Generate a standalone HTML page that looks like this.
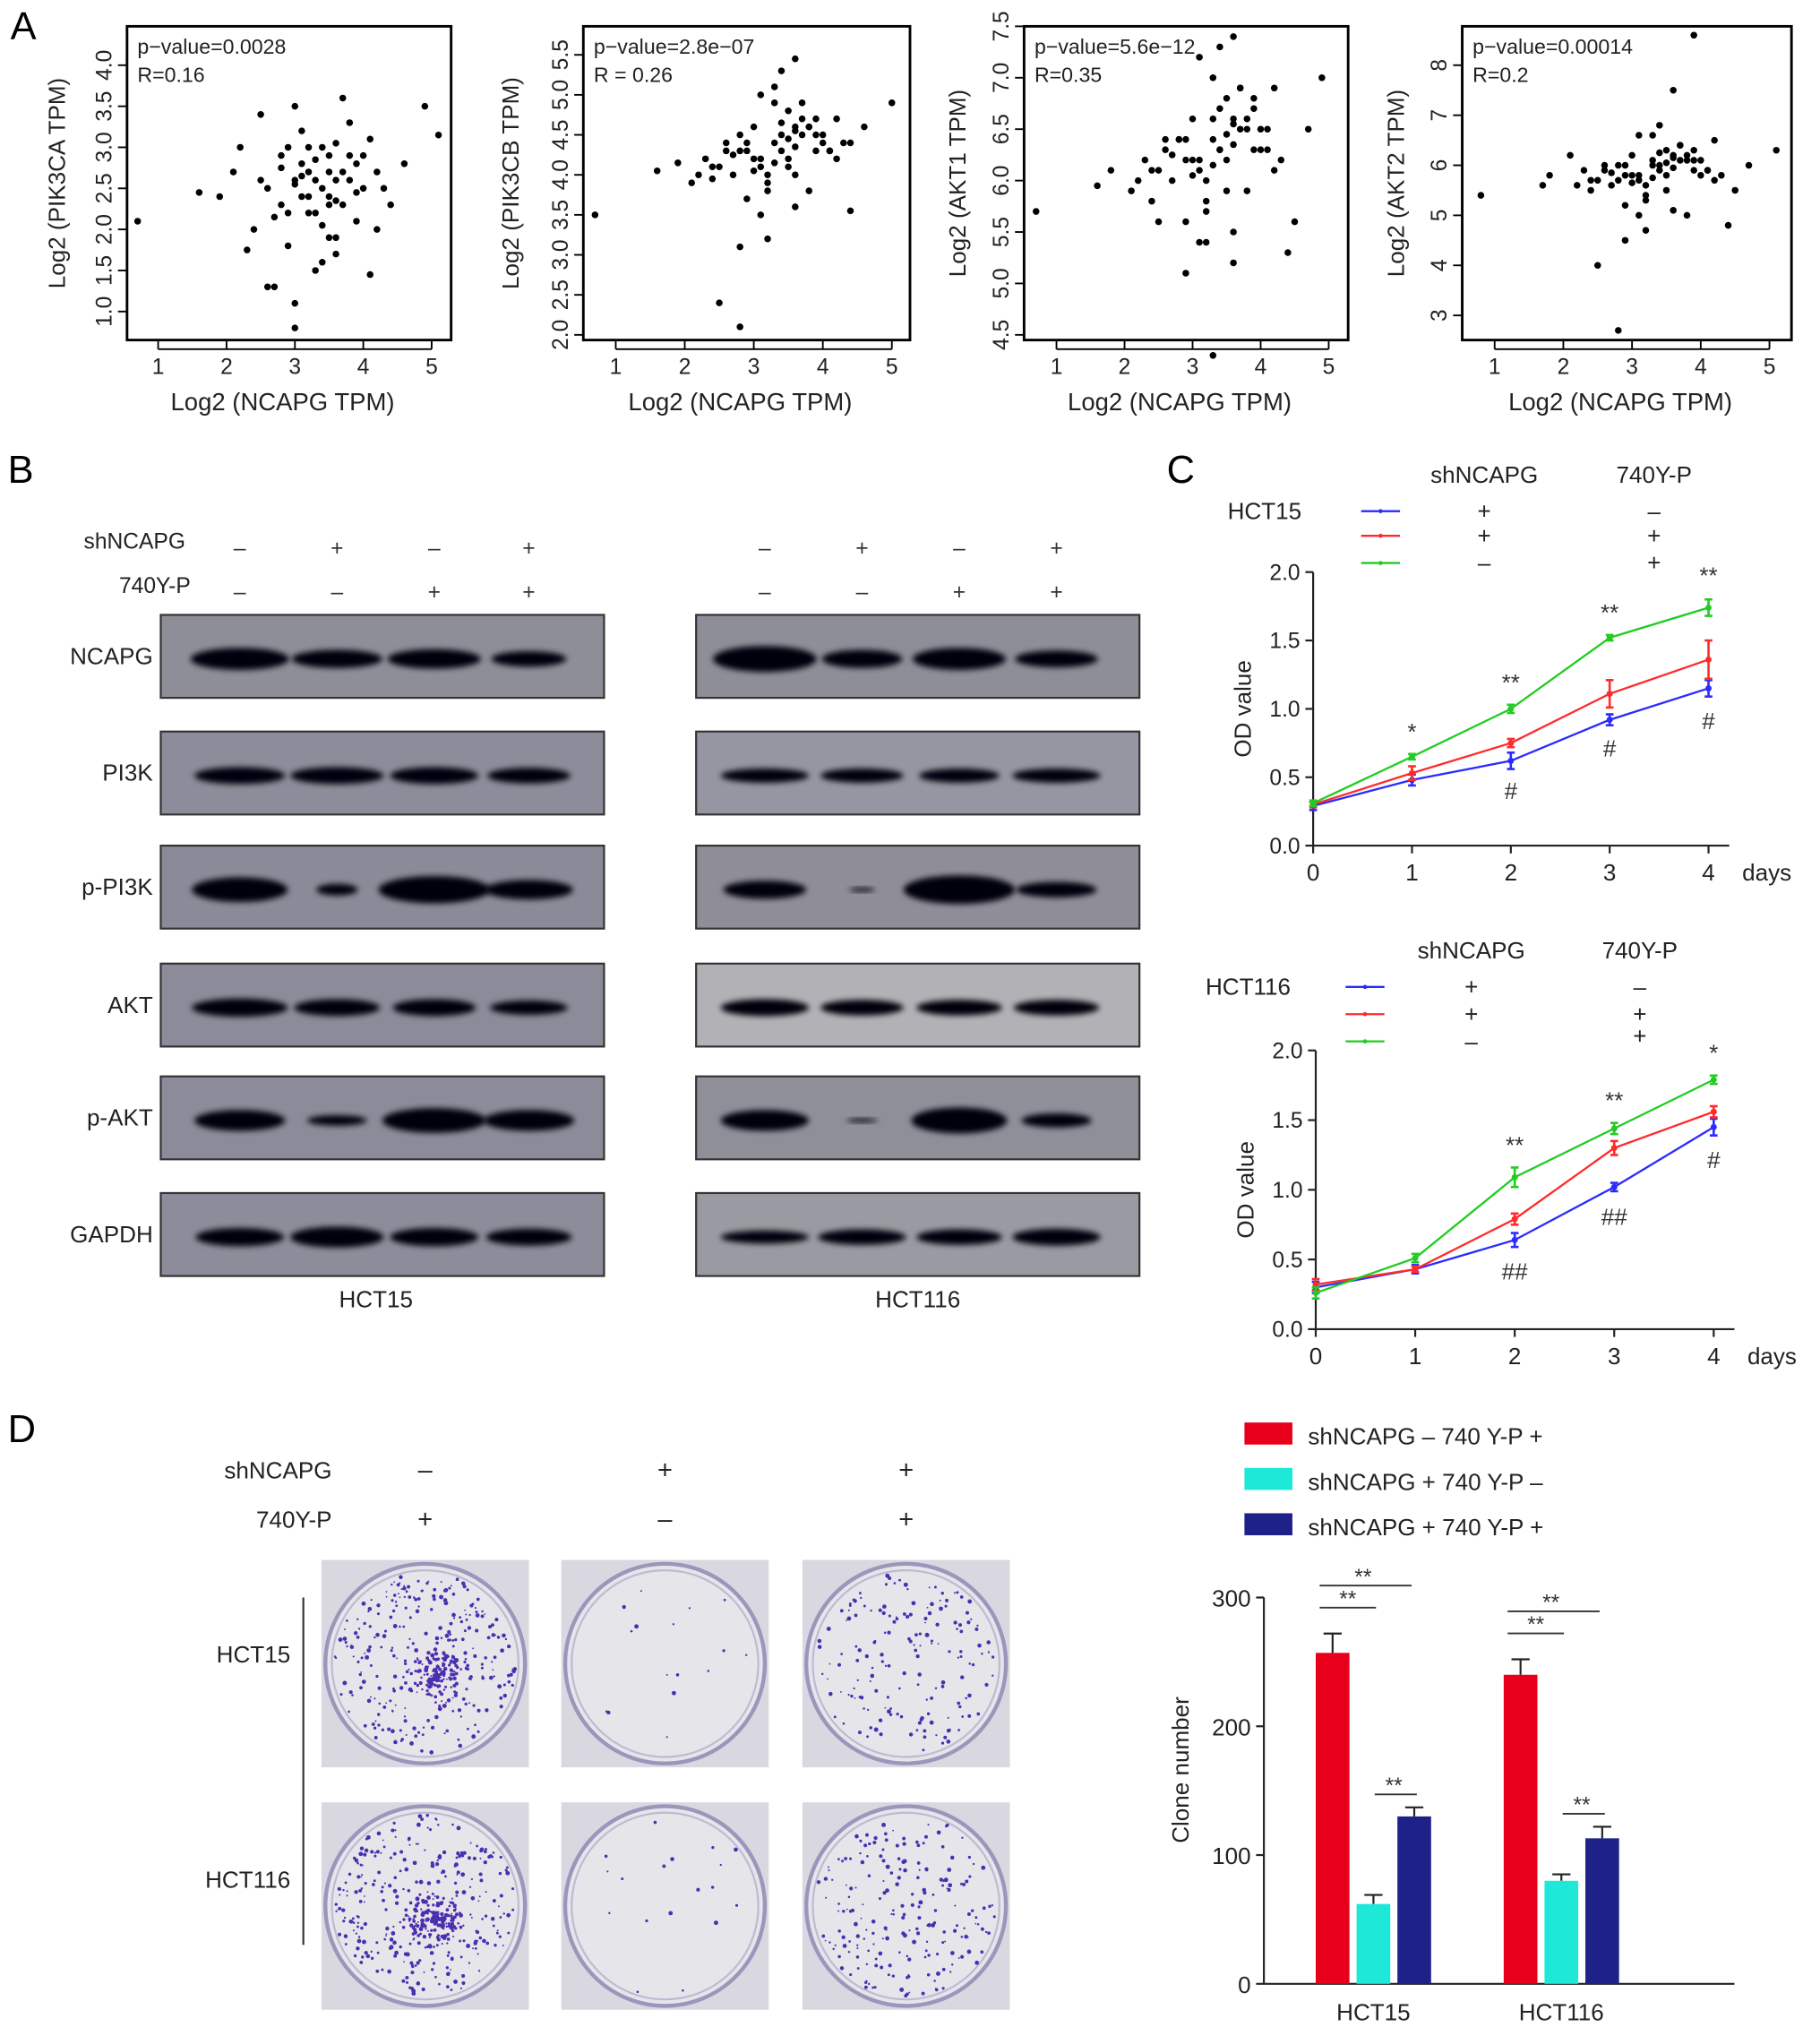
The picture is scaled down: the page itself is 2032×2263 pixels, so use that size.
<!DOCTYPE html>
<html><head><meta charset="utf-8"><title>NCAPG PI3K/AKT figure</title>
<style>
html,body{margin:0;padding:0;background:#fff;}
svg{display:block;font-family:"Liberation Sans",Arial,sans-serif;}
</style></head>
<body>
<svg id="fig" width="2032" height="2263" viewBox="0 0 1404 1563" xmlns="http://www.w3.org/2000/svg">
<defs>
<filter id="blur2" x="-20%" y="-50%" width="140%" height="200%"><feGaussianBlur stdDeviation="2.2"/></filter>
</defs>
<g id="panelA"></g>
<g id="panelB"></g>
<g id="panelC"></g>
<g id="panelD"></g>
</svg>
<script>
// ---------- Panel A data ----------
const scatterX1 = [3.0,3.2,3.5,2.8,3.9,4.1,3.3,2.6,3.7,3.1,2.9,3.6,4.0,3.4,2.4,3.8,3.2,2.7,3.5,3.0,4.3,2.2,3.6,3.9,2.5,3.3,3.1,4.2,2.8,3.7,3.4,0.7,1.6,4.9,5.1,4.6,1.9,2.3,3.0,4.1,3.5,2.6,3.2,3.8,2.9,4.4,3.3,2.1,3.6,3.0,3.4,3.7,3.1,2.9,3.5,3.8,3.2,3.6,2.8,4.0,3.3,3.5,3.9,2.7,3.0,3.6,3.4,3.1,4.2,2.5];
const scatterY1 = [2.6,2.4,2.7,2.9,2.8,3.1,2.2,2.5,2.3,3.2,1.8,2.6,2.9,1.6,2.0,3.3,2.7,1.3,2.4,3.5,2.5,3.0,1.9,2.1,3.4,1.5,2.8,2.0,2.3,3.6,3.0,2.1,2.45,3.5,3.15,2.8,2.4,1.75,1.1,1.45,1.9,1.3,2.2,2.9,3.0,2.3,2.6,2.7,1.7,0.8,2.5,2.7,2.4,2.2,2.9,2.6,3.0,2.35,2.75,2.5,2.85,2.3,2.45,2.15,2.55,3.05,2.05,2.65,2.7,2.6];
const scatterX2 = [3.0,3.3,3.6,2.7,3.9,4.1,3.2,2.5,3.7,3.4,2.9,3.5,4.0,3.1,2.3,3.8,3.3,2.8,3.5,3.0,4.3,2.2,3.6,3.9,2.6,3.2,3.1,4.2,2.8,3.7,3.4,0.7,1.6,4.6,5.0,4.4,1.9,2.1,2.8,4.4,3.6,2.5,3.2,3.8,2.9,4.2,3.3,2.4,3.6,2.8,3.4,3.7,3.1,2.9,3.5,3.8,3.2,3.6,2.7,4.0,3.3,3.5,3.9,2.6,3.0,3.6,3.4,3.1,4.1,2.4];
const scatterY2 = [4.2,4.4,4.6,4.0,4.5,4.3,3.9,4.1,4.7,4.5,3.7,4.8,4.4,3.5,4.2,4.6,4.9,4.3,4.1,4.6,4.4,4.0,3.6,4.7,4.3,3.8,5.0,4.2,4.5,4.9,5.3,3.5,4.05,4.6,4.9,4.4,4.15,3.9,3.1,3.55,5.45,2.4,3.2,3.8,4.3,4.7,5.1,3.95,4.0,2.1,4.3,4.5,4.1,4.4,4.2,4.6,4.0,4.35,4.25,4.5,4.15,4.45,4.3,4.4,4.05,4.55,4.65,4.2,4.3,4.1];
const scatterX3 = [3.0,3.3,3.6,2.7,3.9,4.1,3.2,2.5,3.7,3.4,2.9,3.5,4.0,3.1,2.3,3.8,3.3,2.8,3.5,3.0,4.3,2.2,3.6,3.9,2.6,3.2,3.1,4.2,2.8,3.7,3.4,0.7,1.6,4.7,4.9,4.5,1.8,2.1,2.9,4.4,3.6,2.5,3.2,3.8,2.9,4.2,3.3,2.4,3.6,3.3,3.4,3.7,3.1,2.9,3.5,3.8,3.2,3.6,2.7,4.0,3.3,3.5,3.9,2.6,3.0,3.6,3.4,3.1,4.1,2.4];
const scatterY3 = [6.2,6.4,6.6,6.0,6.7,6.5,5.8,6.1,6.9,6.3,5.6,6.8,6.3,5.4,6.2,6.5,7.0,6.4,5.9,6.6,6.2,6.0,5.5,6.8,6.3,5.7,7.2,6.1,6.4,6.9,7.3,5.7,5.95,6.5,7.0,5.6,6.1,5.9,5.1,5.3,7.4,5.6,5.4,5.9,6.2,6.9,6.6,5.8,5.2,4.3,6.3,6.5,6.1,6.4,6.2,6.6,6.0,6.35,6.25,6.5,6.15,6.45,6.3,6.4,6.05,6.55,6.7,6.2,6.3,6.1];
const scatterX4 = [3.0,3.3,3.6,2.7,3.9,4.1,3.2,2.5,3.7,3.4,2.9,3.5,4.0,3.1,2.3,3.8,3.3,2.8,3.5,3.0,4.3,2.2,3.6,3.9,2.6,3.2,3.1,4.2,2.8,3.7,3.4,0.8,1.7,4.7,5.1,4.5,1.8,2.1,2.9,4.4,3.6,2.5,3.2,3.8,2.9,4.2,3.3,2.4,3.9,2.8,3.4,3.7,3.1,2.9,3.5,3.8,3.2,3.6,2.7,4.0,3.3,3.5,3.9,2.6,3.0,3.6,3.4,3.1,4.1,2.4];
const scatterY4 = [5.8,6.0,6.2,5.6,6.1,5.9,5.4,5.7,6.4,6.0,5.2,6.3,5.8,5.0,5.9,6.1,6.6,5.7,5.5,6.2,5.8,5.6,5.1,6.3,5.9,5.3,6.6,5.7,6.0,6.4,6.8,5.4,5.6,6.0,6.3,5.5,5.8,6.2,4.5,4.8,7.5,4.0,4.7,5.0,5.8,6.5,6.1,5.5,8.6,2.7,5.9,6.1,5.7,6.0,5.8,6.2,5.6,5.95,5.85,6.1,5.75,6.05,5.9,6.0,5.65,6.15,6.25,5.8,5.9,5.7];

// ---------- Panel C data ----------
const days = [0,1,2,3,4];
const hct15Blue  = [0.29,0.48,0.62,0.92,1.15];
const hct15Red   = [0.30,0.53,0.75,1.11,1.36];
const hct15Green = [0.31,0.65,1.00,1.52,1.74];
const hct15BlueErr  = [0.03,0.04,0.06,0.04,0.06];
const hct15RedErr   = [0.02,0.05,0.03,0.10,0.14];
const hct15GreenErr = [0.02,0.02,0.03,0.02,0.06];
const hct116Blue  = [0.30,0.43,0.64,1.02,1.45];
const hct116Red   = [0.32,0.43,0.79,1.30,1.56];
const hct116Green = [0.26,0.51,1.09,1.44,1.79];
const hct116BlueErr  = [0.04,0.03,0.05,0.03,0.06];
const hct116RedErr   = [0.04,0.02,0.04,0.05,0.04];
const hct116GreenErr = [0.04,0.03,0.07,0.04,0.03];
const odTicks = [0.0,0.5,1.0,1.5,2.0];
const odTickLabels = ["0.0","0.5","1.0","1.5","2.0"];

// ---------- Panel D data ----------
const cloneGroups = ["HCT15","HCT116"];
const cloneRed  = [257,240];
const cloneCyan = [62,80];
const cloneNavy = [130,113];
const cloneRedErr  = [15,12];
const cloneCyanErr = [7,5];
const cloneNavyErr = [7,9];
const cloneTicks = [0,100,200,300];

const NS="http://www.w3.org/2000/svg";
function mk(parent,tag,attrs,text){const e=document.createElementNS(NS,tag);for(const k in attrs)e.setAttribute(k,attrs[k]);if(text!==undefined)e.textContent=text;parent.appendChild(e);return e;}

// ================= PANEL A =================
const A=document.getElementById('panelA');
const letterA=mk(A,'text',{x:8,y:30,'font-size':30},'A');


const scat=[
 {x0:98,x1:348,y0:20,y1:262,xp1:122,xp5:333,ymin:1.0,ymax:4.0,yb:240,yt:50,ticks:["1.0","1.5","2.0","2.5","3.0","3.5","4.0"],tv:[1,1.5,2,2.5,3,3.5,4],title:"Log2 (PIK3CA TPM)",tx:50,p:"p\u2212value=0.0028",r:"R=0.16",X:scatterX1,Y:scatterY1,name:'pik3ca'},
 {x0:450,x1:702,y0:20,y1:262,xp1:475,xp5:688,ymin:2.0,ymax:5.5,yb:258,yt:42,ticks:["2.0","2.5","3.0","3.5","4.0","4.5","5.0","5.5"],tv:[2,2.5,3,3.5,4,4.5,5,5.5],title:"Log2 (PIK3CB TPM)",tx:400,p:"p\u2212value=2.8e\u221207",r:"R = 0.26",X:scatterX2,Y:scatterY2,name:'pik3cb'},
 {x0:790,x1:1040,y0:20,y1:262,xp1:815,xp5:1025,ymin:4.5,ymax:7.5,yb:258,yt:20,ticks:["4.5","5.0","5.5","6.0","6.5","7.0","7.5"],tv:[4.5,5,5.5,6,6.5,7,7.5],title:"Log2 (AKT1 TPM)",tx:745,p:"p\u2212value=5.6e\u221212",r:"R=0.35",X:scatterX3,Y:scatterY3,name:'akt1'},
 {x0:1128,x1:1382,y0:20,y1:262,xp1:1153,xp5:1365,ymin:3,ymax:8,yb:243,yt:50,ticks:["3","4","5","6","7","8"],tv:[3,4,5,6,7,8],title:"Log2 (AKT2 TPM)",tx:1083,p:"p\u2212value=0.00014",r:"R=0.2",X:scatterX4,Y:scatterY4,name:'akt2'}
];
scat.forEach(s=>{
  const g=mk(A,'g',{});
  
  
  const sx=v=>s.xp1+(v-1)*(s.xp5-s.xp1)/4;
  const sy=v=>s.yb-(v-s.ymin)*(s.yb-s.yt)/(s.ymax-s.ymin);
  const box=mk(g,'rect',{x:s.x0,y:s.y0,width:s.x1-s.x0,height:s.y1-s.y0,fill:'none',stroke:'#000','stroke-width':2});
  
  
  for(let i=0;i<s.X.length;i++){
    const c=mk(g,'circle',{cx:sx(s.X[i]),cy:sy(s.Y[i]),r:2.6,fill:'#000'});
    
    
  }
  [1,2,3,4,5].forEach(v=>{
    mk(g,'line',{x1:sx(v),x2:sx(v),y1:s.y1,y2:s.y1+7,stroke:'#000','stroke-width':1.3});
    const t=mk(g,'text',{x:sx(v),y:s.y1+26,'font-size':17,'text-anchor':'middle',fill:'#222'},String(v));
    
    
  });
  mk(g,'line',{x1:sx(1),x2:sx(5),y1:s.y1+7,y2:s.y1+7,stroke:'#000','stroke-width':1.3});
  s.tv.forEach((v,i)=>{
    mk(g,'line',{x1:s.x0-7,x2:s.x0,y1:sy(v),y2:sy(v),stroke:'#000','stroke-width':1.3});
    const t=mk(g,'text',{x:0,y:0,'font-size':17,'text-anchor':'middle',fill:'#222',transform:`translate(${s.x0-12},${sy(v)}) rotate(-90)`},s.ticks[i]);
    
    
  });
  const yt=mk(g,'text',{x:0,y:0,'font-size':18,'text-anchor':'middle',fill:'#222',transform:`translate(${s.tx},141) rotate(-90)`},s.title);
  
  
  const xt=mk(g,'text',{x:(s.x0+s.x1)/2-5,y:316,'font-size':19,'text-anchor':'middle',fill:'#222'},'Log2 (NCAPG TPM)');
  
  
  const pv=mk(g,'text',{x:s.x0+8,y:s.y0+21,'font-size':16,fill:'#222'},s.p);
  
  
  const rv=mk(g,'text',{x:s.x0+8,y:s.y0+43,'font-size':16,fill:'#222'},s.r);
  
  
});

// ================= PANEL B =================
const B=document.getElementById('panelB');
const letterB=mk(B,'text',{x:6,y:372,'font-size':30},'B');


const lanesL=[185,260,335,408], lanesR=[590,665,740,815];
const shSigns=['\u2013','+','\u2013','+'], ypSigns=['\u2013','\u2013','+','+'];
const hl=mk(B,'text',{x:143,y:423,'font-size':17,'text-anchor':'end',fill:'#222'},'shNCAPG');

const hl2=mk(B,'text',{x:147,y:457,'font-size':17,'text-anchor':'end',fill:'#222'},'740Y-P');

[lanesL,lanesR].forEach(ln=>ln.forEach((x,i)=>{
  const a=mk(B,'text',{x:x,y:428,'font-size':17,'text-anchor':'middle',fill:'#333'},shSigns[i]);
  
  const b=mk(B,'text',{x:x,y:462,'font-size':17,'text-anchor':'middle',fill:'#333'},ypSigns[i]);
  
}));
const rows=[
 {n:'NCAPG',y:474,L:[[76,17],[70,14],[72,15],[58,12]],R:[[80,20],[62,14],[72,17],[64,13]],bgL:'#8e8e98',bgR:'#8e8e98'},
 {n:'PI3K',y:564,L:[[70,13],[72,13],[68,13],[64,12]],R:[[68,11],[64,11],[62,11],[68,11]],bgL:'#8c8c9a',bgR:'#9696a2'},
 {n:'p-PI3K',y:652,L:[[74,19],[32,9],[86,21],[68,15]],R:[[64,14],[20,3],[86,22],[62,12]],bgL:'#8a8a98',bgR:'#8f8e98'},
 {n:'AKT',y:743,L:[[74,14],[66,13],[64,13],[60,11]],R:[[68,13],[64,12],[66,12],[66,12]],bgL:'#8b8b99',bgR:'#b2b2b6'},
 {n:'p-AKT',y:830,L:[[70,16],[46,8],[80,19],[70,16]],R:[[68,16],[24,3],[74,20],[54,11]],bgL:'#8b8b99',bgR:'#8f8f9a'},
 {n:'GAPDH',y:920,L:[[68,14],[72,16],[68,14],[66,13]],R:[[68,10],[68,12],[66,12],[68,13]],bgL:'#8c8c9a',bgR:'#9a9aa2'}
];
rows.forEach(r=>{
  const lab=mk(B,'text',{x:118,y:r.y+38,'font-size':18,'text-anchor':'end',fill:'#222'},r.n);
  
  
  [[124,lanesL,r.L,r.bgL,'hct15'],[537,lanesR,r.R,r.bgR,'hct116']].forEach(([x0,ln,bands,bg,cl])=>{
    const g=mk(B,'g',{});
    
    
    mk(g,'rect',{x:x0,y:r.y,width:342,height:64,fill:bg,stroke:'#333','stroke-width':1.5});
    bands.forEach((b,i)=>{
      const e=mk(g,'ellipse',{cx:ln[i],cy:r.y+34,rx:b[0]/2,ry:b[1]/2,fill:'#05050c',filter:'url(#blur2)'});
      
      
    });
  });
});
const c1=mk(B,'text',{x:290,y:1008,'font-size':18,'text-anchor':'middle',fill:'#222'},'HCT15');

const c2=mk(B,'text',{x:708,y:1008,'font-size':18,'text-anchor':'middle',fill:'#222'},'HCT116');


// ================= PANEL C =================
const C=document.getElementById('panelC');
const letterC=mk(C,'text',{x:900,y:372,'font-size':30},'C');


function lineChart(cfg){
  const g=mk(C,'g',{});
  
  
  const sx=d=>cfg.x0+d*(cfg.x4-cfg.x0)/4;
  const sy=v=>cfg.yb-v*(cfg.yb-cfg.yt)/2;
  const h1=mk(g,'text',{x:cfg.shx,y:cfg.hy,'font-size':18,'text-anchor':'middle',fill:'#222'},'shNCAPG');
  
  const h2=mk(g,'text',{x:cfg.ypx,y:cfg.hy,'font-size':18,'text-anchor':'middle',fill:'#222'},'740Y-P');
  
  const cl=mk(g,'text',{x:cfg.clx,y:cfg.ly[0]+6,'font-size':18,fill:'#222'},cfg.cell);
  
  const cols=['#2b2bff','#ff2b2b','#22cc22'];
  const shS=['+','+','\u2013'], ypS=['\u2013','+','+'];
  cols.forEach((c,i)=>{
    const le=mk(g,'g',{});
    
    
    mk(le,'line',{x1:cfg.lx,x2:cfg.lx+30,y1:cfg.ly[i],y2:cfg.ly[i],stroke:c,'stroke-width':1.6});
    mk(le,'circle',{cx:cfg.lx+15,cy:cfg.ly[i],r:1.6,fill:c});
    mk(le,'text',{x:cfg.shx,y:cfg.ly[i]+6,'font-size':18,'text-anchor':'middle',fill:'#222'},shS[i]);
    mk(le,'text',{x:cfg.ypx,y:cfg.ly[i]+6+(i===2?cfg.extra:0),'font-size':18,'text-anchor':'middle',fill:'#222'},ypS[i]);
  });
  mk(g,'line',{x1:cfg.x0,x2:cfg.x0,y1:cfg.yt,y2:cfg.yb,stroke:'#222','stroke-width':1.5});
  mk(g,'line',{x1:cfg.x0,x2:cfg.x4+16,y1:cfg.yb,y2:cfg.yb,stroke:'#222','stroke-width':1.5});
  odTicks.forEach((v,i)=>{
    mk(g,'line',{x1:cfg.x0-6,x2:cfg.x0,y1:sy(v),y2:sy(v),stroke:'#222','stroke-width':1.5});
    const t=mk(g,'text',{x:cfg.x0-10,y:sy(v)+6,'font-size':17,'text-anchor':'end',fill:'#222'},odTickLabels[i]);
    
  });
  days.forEach(d=>{
    mk(g,'line',{x1:sx(d),x2:sx(d),y1:cfg.yb,y2:cfg.yb+6,stroke:'#222','stroke-width':1.5});
    const t=mk(g,'text',{x:sx(d),y:cfg.yb+27,'font-size':18,'text-anchor':'middle',fill:'#222'},String(d));
    
  });
  const dl=mk(g,'text',{x:cfg.x4+26,y:cfg.yb+27,'font-size':18,fill:'#222'},'days');
  
  const yl=mk(g,'text',{x:0,y:0,'font-size':18,'text-anchor':'middle',fill:'#222',transform:`translate(${cfg.x0-48},${(cfg.yt+cfg.yb)/2}) rotate(-90)`},'OD value');
  
  cfg.series.forEach((s,k)=>{
    const pts=days.map((d,i)=>sx(d)+','+sy(s.v[i])).join(' ');
    const pl=mk(g,'polyline',{points:pts,fill:'none',stroke:cols[k],'stroke-width':1.6});
    
    days.forEach((d,i)=>{
      const x=sx(d),y1=sy(s.v[i]-s.e[i]),y2=sy(s.v[i]+s.e[i]);
      mk(g,'line',{x1:x,x2:x,y1:y1,y2:y2,stroke:cols[k],'stroke-width':1.8});
      mk(g,'line',{x1:x-3,x2:x+3,y1:y1,y2:y1,stroke:cols[k],'stroke-width':1.8});
      mk(g,'line',{x1:x-3,x2:x+3,y1:y2,y2:y2,stroke:cols[k],'stroke-width':1.8});
      const p=mk(g,'circle',{cx:x,cy:sy(s.v[i]),r:2.4,fill:cols[k]});
      
    });
  });
  cfg.ann.forEach(a=>{
    const t=mk(g,'text',{x:sx(a[0]),y:a[2]==='top'?sy(a[3])-10:sy(a[3])+24,'font-size':18,'text-anchor':'middle',fill:'#333'},a[1]);
    
  });
}
lineChart({name:'line-chart-hct15',cell:'HCT15',x0:1013,x4:1318,yt:441,yb:652,hy:372,shx:1145,ypx:1276,clx:947,lx:1050,ly:[394,413,434],extra:0,
  series:[{n:'blue',v:hct15Blue,e:hct15BlueErr},{n:'red',v:hct15Red,e:hct15RedErr},{n:'green',v:hct15Green,e:hct15GreenErr}],
  ann:[[1,'*','top',0.68],[2,'**','top',1.04],[3,'**','top',1.55],[4,'**','top',1.82],[2,'#','bot',0.57],[3,'#','bot',0.88],[4,'#','bot',1.08]]});
lineChart({name:'line-chart-hct116',cell:'HCT116',x0:1015,x4:1322,yt:810,yb:1025,hy:739,shx:1135,ypx:1265,clx:930,lx:1038,ly:[761,782,803],extra:-4,
  series:[{n:'blue',v:hct116Blue,e:hct116BlueErr},{n:'red',v:hct116Red,e:hct116RedErr},{n:'green',v:hct116Green,e:hct116GreenErr}],
  ann:[[2,'**','top',1.17],[3,'**','top',1.49],[4,'*','top',1.83],[2,'##','bot',0.58],[3,'##','bot',0.97],[4,'#','bot',1.38]]});

// ================= PANEL D =================
const D=document.getElementById('panelD');
const letterD=mk(D,'text',{x:6,y:1112,'font-size':30},'D');


const dl1=mk(D,'text',{x:256,y:1140,'font-size':18,'text-anchor':'end',fill:'#222'},'shNCAPG');

const dl2=mk(D,'text',{x:256,y:1178,'font-size':18,'text-anchor':'end',fill:'#222'},'740Y-P');

const plateX=[248,433,619];
const dSh=['\u2013','+','+'], dYp=['+','\u2013','+'];
plateX.forEach((x,i)=>{
  mk(D,'text',{x:x+80,y:1140,'font-size':20,'text-anchor':'middle',fill:'#222'},dSh[i]);
  mk(D,'text',{x:x+80,y:1178,'font-size':20,'text-anchor':'middle',fill:'#222'},dYp[i]);
});
mk(D,'line',{x1:234,x2:234,y1:1232,y2:1500,stroke:'#333','stroke-width':1.5});
const r1=mk(D,'text',{x:224,y:1282,'font-size':18,'text-anchor':'end',fill:'#222'},'HCT15');

const r2=mk(D,'text',{x:224,y:1456,'font-size':18,'text-anchor':'end',fill:'#222'},'HCT116');

// colony plates (decorative photo texture)
let seed=7;function rnd(){seed=(seed*16807)%2147483647;return seed/2147483647;}
[1203,1390].forEach((py,ri)=>{
  plateX.forEach((px,ci)=>{
    const g=mk(D,'g',{});
    
    
    mk(g,'rect',{x:px,y:py,width:160,height:160,fill:'#d9d7e0'});
    mk(g,'circle',{cx:px+80,cy:py+80,r:77,fill:'#e6e5ea',stroke:'#9a96bc','stroke-width':3});
    mk(g,'circle',{cx:px+80,cy:py+80,r:72,fill:'none',stroke:'#bebad2','stroke-width':1.5});
    const n=[[420,16,170],[460,18,210]][ri][ci];
    for(let k=0;k<n;k++){
      let a=rnd()*6.283, rr=Math.sqrt(rnd())*70;
      const cl=(ci===0&&k<n*0.3);
      if(cl){rr=rnd()*22;}
      const cx=px+80+Math.cos(a)*rr+(cl?8:0), cy=py+80+Math.sin(a)*rr+(cl?12:0);
      mk(g,'circle',{cx:cx,cy:cy,r:0.6+rnd()*1.1,fill:'#4a2fb0'});
    }
  });
});
// bar chart
const bg=mk(D,'g',{});


const by0=1530,by300=1232,bx0=975;
const bsy=v=>by0-v*(by0-by300)/300;
const legItems=[['#e8001a','shNCAPG \u2013  740 Y-P +'],['#1ee8d8','shNCAPG +  740 Y-P \u2013'],['#1e2288','shNCAPG +  740 Y-P +']];
legItems.forEach((l,i)=>{
  const g=mk(bg,'g',{});
  
  
  mk(g,'rect',{x:960,y:1097+i*35,width:37,height:17,fill:l[0]});
  mk(g,'text',{x:1009,y:1114+i*35,'font-size':18,fill:'#222'},l[1]);
});
mk(bg,'line',{x1:bx0,x2:bx0,y1:by300,y2:by0,stroke:'#222','stroke-width':1.5});
mk(bg,'line',{x1:bx0,x2:1338,y1:by0,y2:by0,stroke:'#222','stroke-width':1.5});
cloneTicks.forEach(v=>{
  mk(bg,'line',{x1:bx0-6,x2:bx0,y1:bsy(v),y2:bsy(v),stroke:'#222','stroke-width':1.5});
  const t=mk(bg,'text',{x:bx0-10,y:bsy(v)+7,'font-size':18,'text-anchor':'end',fill:'#222'},String(v));
  
});
const byl=mk(bg,'text',{x:0,y:0,'font-size':18,'text-anchor':'middle',fill:'#222',transform:`translate(917,1365) rotate(-90)`},'Clone number');

const groupX=[1015,1160];
const barW=26,gap=5.5;
cloneGroups.forEach((gname,gi)=>{
  const vals=[[cloneRed[gi],cloneRedErr[gi],'#e8001a'],[cloneCyan[gi],cloneCyanErr[gi],'#1ee8d8'],[cloneNavy[gi],cloneNavyErr[gi],'#1e2288']];
  const xs=[];
  vals.forEach((v,k)=>{
    const x=groupX[gi]+k*(barW+gap);xs.push(x+barW/2);
    const top=bsy(v[0]+v[1]);
    mk(bg,'line',{x1:x+barW/2,x2:x+barW/2,y1:bsy(v[0]),y2:top,stroke:'#222','stroke-width':1.5});
    mk(bg,'line',{x1:x+barW/2-7,x2:x+barW/2+7,y1:top,y2:top,stroke:'#222','stroke-width':1.5});
    const r=mk(bg,'rect',{x:x,y:bsy(v[0]),width:barW,height:by0-bsy(v[0]),fill:v[2]});
    
    
  });
  const t=mk(bg,'text',{x:xs[1],y:1558,'font-size':18,'text-anchor':'middle',fill:'#222'},gname);
  
  const topR=bsy(cloneRed[gi]+cloneRedErr[gi]);
  const b1=topR-20,b2=topR-37;
  mk(bg,'line',{x1:xs[0]-10,x2:xs[1]+2,y1:b1,y2:b1,stroke:'#333','stroke-width':1.3});
  mk(bg,'text',{x:(xs[0]+xs[1])/2-4,y:b1-1,'font-size':17,'text-anchor':'middle',fill:'#333'},'**');
  mk(bg,'line',{x1:xs[0]-10,x2:xs[2]-2,y1:b2,y2:b2,stroke:'#333','stroke-width':1.3});
  mk(bg,'text',{x:(xs[0]+xs[2])/2-8,y:b2-1,'font-size':17,'text-anchor':'middle',fill:'#333'},'**');
  const topN=bsy(cloneNavy[gi]+cloneNavyErr[gi]);
  mk(bg,'line',{x1:xs[1]+1,x2:xs[2]+2,y1:topN-10,y2:topN-10,stroke:'#333','stroke-width':1.3});
  mk(bg,'text',{x:(xs[1]+xs[2])/2,y:topN-11,'font-size':17,'text-anchor':'middle',fill:'#333'},'**');
});
</script>
</body></html>
